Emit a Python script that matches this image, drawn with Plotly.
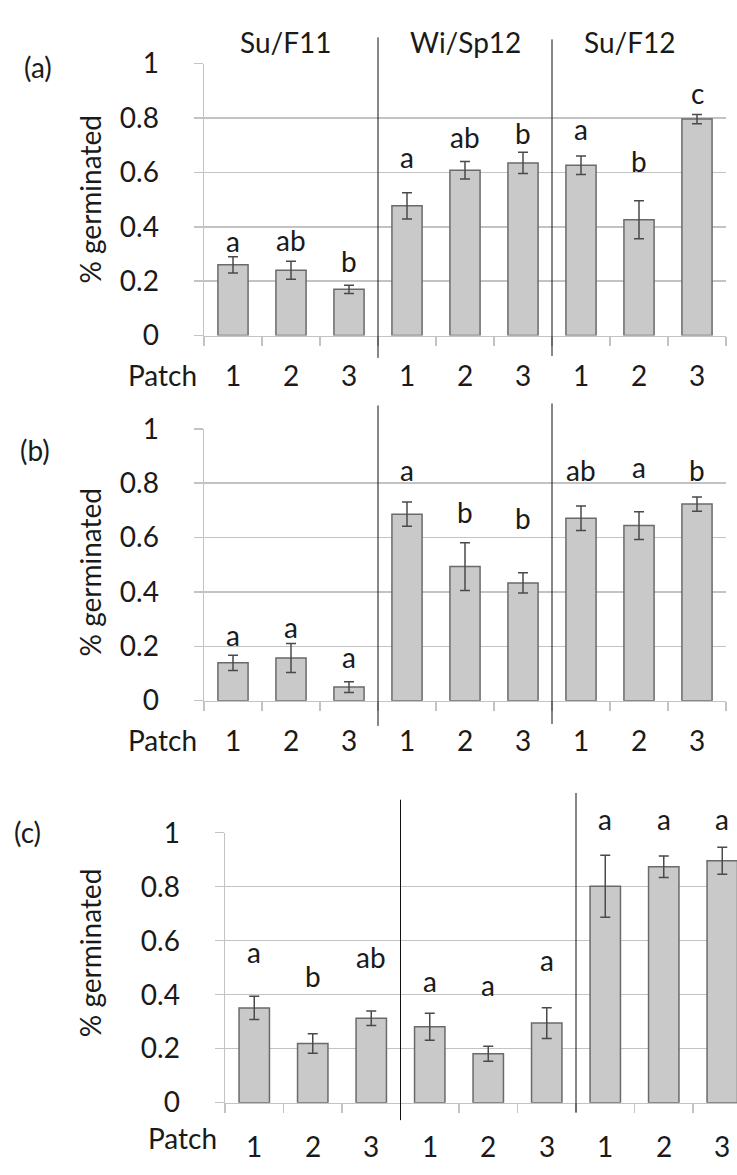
import plotly.graph_objects as go

# ---------------- data ----------------
seasons = ["Su/F11", "Wi/Sp12", "Su/F12"]
patches = ["1", "2", "3"]
panel_names = ["(a)", "(b)", "(c)"]

a_vals = [0.26, 0.24, 0.17, 0.477, 0.608, 0.635, 0.626, 0.426, 0.796]
a_err = [0.03, 0.033, 0.015, 0.048, 0.032, 0.039, 0.034, 0.07, 0.017]
a_letters = ["a", "ab", "b", "a", "ab", "b", "a", "b", "c"]
a_letter_y = [0.335, 0.34, 0.264, 0.646, 0.72, 0.733, 0.75, 0.632, 0.882]

b_vals = [0.139, 0.157, 0.05, 0.686, 0.493, 0.433, 0.671, 0.644, 0.723]
b_err = [0.028, 0.053, 0.02, 0.045, 0.088, 0.037, 0.045, 0.051, 0.026]
b_letters = ["a", "a", "a", "a", "b", "b", "ab", "a", "b"]
b_letter_y = [0.231, 0.26, 0.148, 0.838, 0.683, 0.66, 0.838, 0.85, 0.838]

c_vals = [0.351, 0.219, 0.313, 0.281, 0.181, 0.295, 0.802, 0.874, 0.896]
c_err = [0.043, 0.036, 0.027, 0.05, 0.028, 0.057, 0.115, 0.04, 0.05]
c_letters = ["a", "b", "ab", "a", "a", "a", "a", "a", "a"]
c_letter_y = [0.547, 0.457, 0.529, 0.439, 0.423, 0.519, 1.04, 1.04, 1.04]

y_ticks = [0, 0.2, 0.4, 0.6, 0.8, 1]
y_ticktext = ["0", "0.2", "0.4", "0.6", "0.8", "1"]
y_title = "% germinated"
x_title = "Patch"

# ---------------- layout helpers ----------------
W, H = 737, 1175
FONT = "Lato, 'Open Sans', sans-serif"
FS = 28
TXT = "#1a1a1a"
GRID = "#c3c3c3"


def px_x(p):
    return p / W


def px_y(p):
    return (H - p) / H


panels = [
    dict(vals=a_vals, err=a_err, letters=a_letters, ly=a_letter_y,
         x0=204, x1=726, xr=[-0.5, 8.5], y0=327, y1=47,
         sep=[(20, 350), (22, 348)], label_xy=(38, 50), ytitle_y=187,
         patch_xy=(162, 368), tick_y=368),
    dict(vals=b_vals, err=b_err, letters=b_letters, ly=b_letter_y,
         x0=204, x1=726, xr=[-0.5, 8.5], y0=703, y1=423,
         sep=[(399, 729), (397, 727)], label_xy=(35, 445), ytitle_y=571,
         patch_xy=(162, 743), tick_y=743),
    dict(vals=c_vals, err=c_err, letters=c_letters, ly=c_letter_y,
         x0=225, x1=737, xr=[-0.5, 8.252], y0=1117, y1=839,
         sep=[(805, 1135), (798, 1127)], label_xy=(27, 838), ytitle_y=963,
         patch_xy=(182, 1153), tick_y=1162),
]

xcats = list(range(9))
fig = go.Figure()
annotations = []
shapes = []

for i, p in enumerate(panels):
    n = "" if i == 0 else str(i + 1)
    xa, ya = "x" + n, "y" + n
    yd0, yd1 = px_y(p["y0"]), px_y(p["y1"])
    fig.add_trace(go.Bar(
        x=xcats, y=p["vals"], xaxis=xa, yaxis=ya, width=0.52,
        marker=dict(color="#c9c9c9", line=dict(color="#6a6a6a", width=1.5)),
        error_y=dict(type="data", array=p["err"], color="#4a4a4a",
                     thickness=1.5, width=5),
        showlegend=False, hoverinfo="skip",
    ))
    fig.layout["xaxis" + n] = dict(
        domain=[px_x(p["x0"]), px_x(p["x1"])], range=p["xr"], anchor=ya,
        tickmode="array", tickvals=xcats, ticktext=patches * 3,
        ticks="", showgrid=False, zeroline=False,
        showline=True, linecolor=GRID, linewidth=1.5,
        showticklabels=False,
        minor=dict(tickmode="array", tickvals=[k - 0.5 for k in range(10)],
                   ticks="outside", ticklen=9, tickcolor=GRID, tickwidth=1.5,
                   showgrid=False),
        fixedrange=True,
    )
    fig.layout["yaxis" + n] = dict(
        domain=[yd0, yd1], range=[0, 1], anchor=xa,
        tickmode="array", tickvals=y_ticks, ticktext=y_ticktext,
        ticks="outside", ticklen=9, tickcolor=GRID, tickwidth=1.5,
        ticklabelstandoff=29,
        showgrid=True, gridcolor=GRID, gridwidth=1.5, zeroline=False,
        showline=True, linecolor=GRID, linewidth=1.5,
        tickfont=dict(family=FONT, size=FS, color=TXT), fixedrange=True,
    )
    # x tick labels (patch numbers)
    for k in xcats:
        annotations.append(dict(
            x=k, xref=xa, y=px_y(p["tick_y"]), yref="paper",
            text=patches[k % 3], showarrow=False, yanchor="middle",
            font=dict(family=FONT, size=FS, color=TXT)))
    # significance letters (positioned in the panel's y scale, via paper)
    for k in xcats:
        annotations.append(dict(
            x=k, xref=xa, y=yd0 + p["ly"][k] * (yd1 - yd0), yref="paper",
            text=p["letters"][k], showarrow=False, yanchor="middle",
            yshift=3, font=dict(family=FONT, size=FS, color=TXT)))
    # "Patch"
    annotations.append(dict(
        x=px_x(p["patch_xy"][0]), y=px_y(p["patch_xy"][1]), xref="paper",
        yref="paper", text=x_title, showarrow=False, xanchor="center",
        yanchor="middle", font=dict(family=FONT, size=FS, color=TXT)))
    # panel label
    annotations.append(dict(
        x=px_x(p["label_xy"][0]), y=px_y(p["label_xy"][1]), xref="paper",
        yref="paper", text=panel_names[i], showarrow=False,
        xanchor="center", yanchor="middle",
        font=dict(family=FONT, size=FS, color=TXT)))
    # y title
    annotations.append(dict(
        x=px_x(90), y=px_y(p["ytitle_y"]), xref="paper", yref="paper",
        text=y_title, textangle=-90, showarrow=False, xanchor="center",
        yanchor="middle", font=dict(family=FONT, size=FS, color=TXT)))
    # season separators
    for (top, bot), xs in zip(p["sep"], [2.5, 5.5]):
        shapes.append(dict(type="line", xref=xa, yref="paper", x0=xs, x1=xs,
                           y0=px_y(bot), y1=px_y(top),
                           line=dict(color="#111111", width=1)))

# season titles (top panel)
for name, xc in zip(seasons, [286, 465, 630]):
    annotations.append(dict(
        x=px_x(xc), y=px_y(25), xref="paper", yref="paper", text=name,
        showarrow=False, xanchor="center", yanchor="middle",
        font=dict(family=FONT, size=FS, color=TXT)))

fig.update_layout(
    width=W, height=H, margin=dict(l=0, r=0, t=0, b=0),
    paper_bgcolor="white", plot_bgcolor="white",
    annotations=annotations, shapes=shapes, bargap=0.48,
    font=dict(family=FONT, size=FS, color=TXT),
)

fig.write_html(
    "out.html",
    config={"displayModeBar": False, "staticPlot": True},
    post_script=(
        "document.body.style.margin='0';"
        "document.body.style.padding='0';"
        "document.documentElement.style.overflow='hidden';"
        "document.body.style.overflow='hidden';"
    ),
)
